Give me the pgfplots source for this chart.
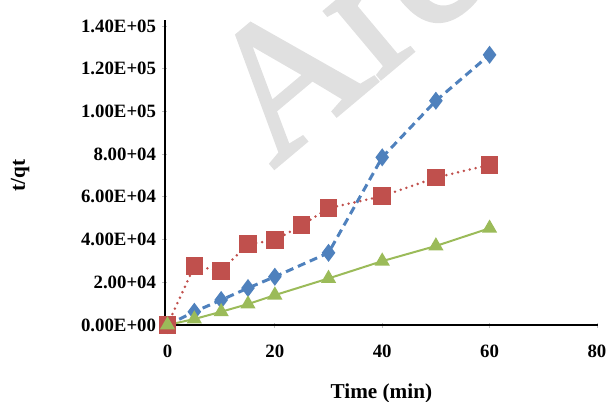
\documentclass[border=0pt]{standalone}
\usepackage{fontspec}
\setmainfont{Liberation Serif}
\newfontface\wmfont{Liberation Serif}[FakeBold=2]
\usepackage{pgfplots}
\pgfplotsset{compat=1.18}

\definecolor{sblue}{HTML}{4F81BD}
\definecolor{sred}{HTML}{C0504D}
\definecolor{sgreen}{HTML}{9BBB59}

\begin{document}
\begin{tikzpicture}
\useasboundingbox (-82.4pt,-38pt) rectangle (221.6pt,162.5pt);
% faint watermark behind the chart
\node[rotate=40, anchor=base west, text=black!12, inner sep=0pt,
      font=\fontsize{95}{95}\wmfont] at (54pt,78pt) {Archive};
\begin{axis}[
    at={(0,0)}, anchor=south west,
    scale only axis,
    width=216.6pt, height=152.5pt,
    xmin=-0.5, xmax=80.2,
    ymin=0, ymax=142800,
    axis lines=left,
    axis line style={-, line width=1pt, black},
    xtick={0,20,40,60,80},
    ytick={0,20000,40000,60000,80000,100000,120000,140000},
    yticklabels={0.00E+00,2.00+04,4.00E+04,6.00E+04,8.00+04,1.00E+05,1.20E+05,1.40E+05},
    scaled y ticks=false,
    /pgf/number format/assume math mode=true,
    tick style={black!25, line width=0.4pt},
    major tick length=2.5pt,
    tick align=center,
    ticklabel style={font=\fontsize{9.4}{11}\selectfont\bfseries},
    xticklabel style={yshift=-5pt},
    yticklabel style={xshift=0.4pt},
    xlabel={Time (min)},
    ylabel={t/qt},
    label style={font=\fontsize{10.6}{12}\selectfont\bfseries},
    xlabel style={at={(axis description cs:0.5,-0.225)}, anchor=center},
    ylabel style={at={(axis description cs:-0.334,0.49)}, anchor=center},
    clip=false,
]
\addplot[sblue, line width=1.5pt, dash pattern=on 4pt off 2.5pt,
    mark=diamond*, mark size=3.3pt, mark options={solid}] coordinates {
    (0,0) (5,6200) (10,11700) (15,17300) (20,22600)
    (30,33800) (40,78500) (50,105000) (60,126500)
};
\addplot[sred, line width=1.4pt, line cap=round, dash pattern=on 0pt off 3pt,
    mark=square*, mark size=3.7pt, mark options={solid}] coordinates {
    (0,0) (5,27600) (10,25400) (15,37800) (20,39700) (25,46700)
    (30,54700) (40,60300) (50,69000) (60,75000)
};
\addplot[sgreen, line width=1pt,
    mark=triangle*, mark size=3.4pt, mark options={solid}] coordinates {
    (0,0) (5,2800) (10,6200) (15,9800) (20,14000)
    (30,21800) (40,29900) (50,37000) (60,45300)
};
\end{axis}
\end{tikzpicture}
\end{document}
